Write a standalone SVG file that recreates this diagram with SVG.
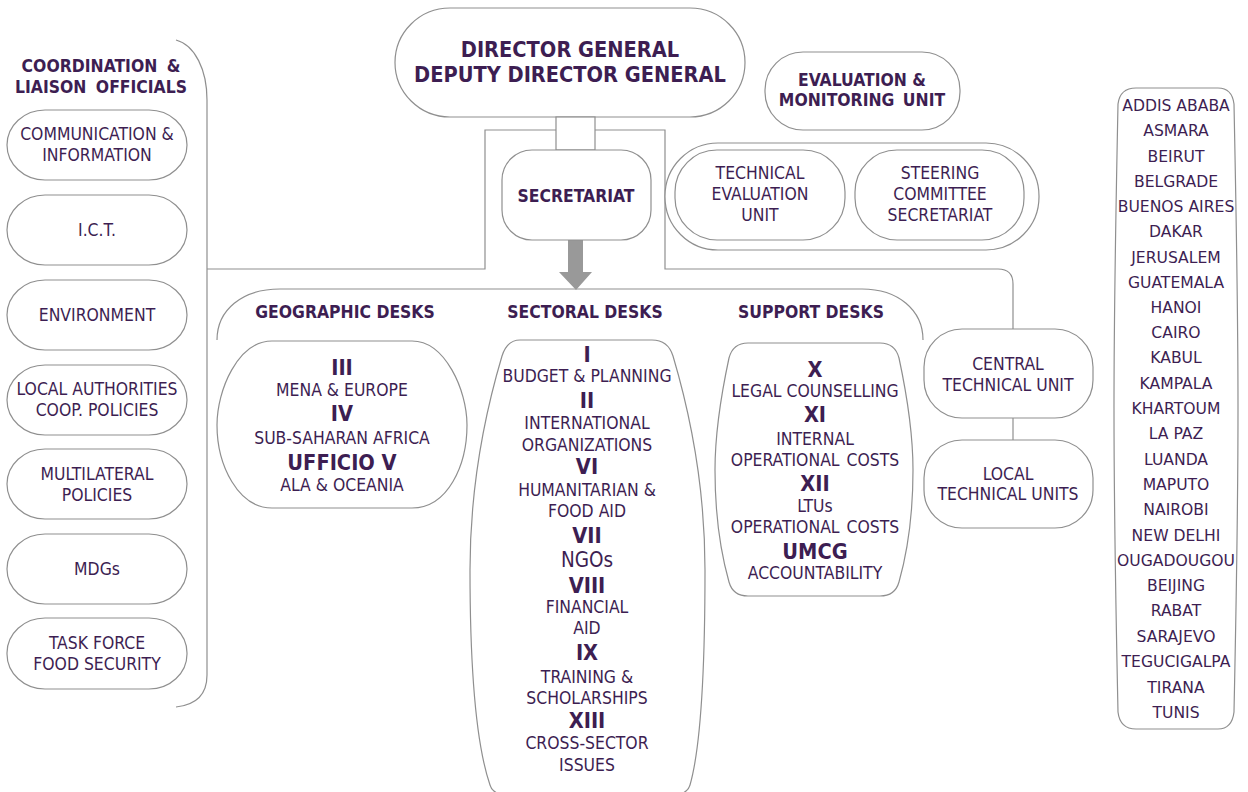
<svg xmlns="http://www.w3.org/2000/svg" width="1248" height="792" viewBox="0 0 1248 792">
<style>
.s{fill:#fff;stroke:#8f8f8f;stroke-width:1.2}
.c{fill:none;stroke:#8f8f8f;stroke-width:1.2}
text{font-family:'DejaVu Sans Condensed','DejaVu Sans',sans-serif;font-stretch:condensed;fill:#3d1e52;text-anchor:middle;font-size:17.4px}
.b{font-weight:bold}
.n{font-weight:bold;font-size:21.6px}
.city{font-family:'DejaVu Sans',sans-serif;font-stretch:normal;font-size:15.6px}
</style>
<rect width="1248" height="792" fill="#fff"/>
<g id="connectors">
<path class="c" d="M176,40 C195,45 207,70 207,100 V675 C207,695 195,705 176,707"/>
<path class="c" d="M556,130 H485 V269 H207"/>
<path class="c" d="M595,130 H665 V269 H998 Q1013,269 1013,284 V329"/>
<path class="c" d="M1013,418 V440"/>
<path class="c" d="M217,340 C217,310 242,289 280,289 H862 C898,289 923,310 923,340"/>
<polygon points="568,240 583,240 583,272 592,272 576,290 559,272 568,272" fill="#999"/>
</g>
<g id="coord-title">
<text class="b" x="101" y="72" word-spacing="4">COORDINATION &amp;</text>
<text class="b" x="101" y="93" word-spacing="4">LIAISON OFFICIALS</text>
</g>
<g id="comm"><rect class="s" x="7" y="110" width="180" height="70" rx="38" ry="35"/><text x="97" y="140">COMMUNICATION &amp;</text><text x="97" y="161">INFORMATION</text></g>
<g id="ict"><rect class="s" x="7" y="195" width="180" height="70" rx="38" ry="35"/><text x="97" y="236">I.C.T.</text></g>
<g id="env"><rect class="s" x="7" y="280" width="180" height="70" rx="38" ry="35"/><text x="97" y="321">ENVIRONMENT</text></g>
<g id="local"><rect class="s" x="7" y="365" width="180" height="70" rx="38" ry="35"/><text x="97" y="395">LOCAL AUTHORITIES</text><text x="97" y="416">COOP. POLICIES</text></g>
<g id="multi"><rect class="s" x="7" y="449" width="180" height="70" rx="38" ry="35"/><text x="97" y="480">MULTILATERAL</text><text x="97" y="501">POLICIES</text></g>
<g id="mdgs"><rect class="s" x="7" y="534" width="180" height="70" rx="38" ry="35"/><text x="97" y="575">MDGs</text></g>
<g id="task"><rect class="s" x="7" y="618" width="180" height="71" rx="38" ry="35"/><text x="97" y="649">TASK FORCE</text><text x="97" y="670">FOOD SECURITY</text></g>
<g id="dg"><rect class="s" x="395" y="8" width="350" height="109" rx="55"/><text class="n" x="570" y="57">DIRECTOR GENERAL</text><text class="n" x="570" y="82">DEPUTY DIRECTOR GENERAL</text></g>
<g id="dg-stem"><rect class="s" x="556" y="117" width="39" height="33"/></g>
<g id="secretariat"><rect class="s" x="502" y="150" width="149" height="90" rx="30"/><text class="b" x="576" y="202">SECRETARIAT</text></g>
<g id="eval"><rect class="s" x="765" y="52" width="195" height="78" rx="38"/><text class="b" x="862" y="86">EVALUATION &amp;</text><text class="b" x="862" y="106" word-spacing="3">MONITORING UNIT</text></g>
<g id="eval-group"><rect class="s" x="665" y="143" width="374" height="107" rx="53"/></g>
<g id="teu"><rect class="s" x="675" y="150" width="170" height="90" rx="42"/><text x="760" y="179">TECHNICAL</text><text x="760" y="200">EVALUATION</text><text x="760" y="221">UNIT</text></g>
<g id="scs"><rect class="s" x="855" y="150" width="169" height="90" rx="42"/><text x="940" y="179">STEERING</text><text x="940" y="200">COMMITTEE</text><text x="940" y="221">SECRETARIAT</text></g>
<g id="desk-labels">
<text class="b" x="345" y="318">GEOGRAPHIC DESKS</text>
<text class="b" x="585" y="318">SECTORAL DESKS</text>
<text class="b" x="811" y="318">SUPPORT DESKS</text>
</g>
<g id="geographic">
<path class="s" d="M272,341 H412 C445,341 467,390 467,425 C467,465 448,508 412,508 H272 C238,508 217,465 217,425 C217,390 238,341 272,341 Z"/>
<text class="n" x="342" y="375">III</text>
<text x="342" y="396">MENA &amp; EUROPE</text>
<text class="n" x="342" y="421">IV</text>
<text x="342" y="444">SUB-SAHARAN AFRICA</text>
<text class="n" x="342" y="470">UFFICIO V</text>
<text x="342" y="491">ALA &amp; OCEANIA</text>
</g>
<g id="sectoral">
<path class="s" d="M520,340 H652 Q668,340 673,356 C692,420 705,490 705,570 C705,680 700,750 690,785 Q688,792 680,794 H500 Q492,792 490,785 C478,750 470,680 470,570 C470,490 483,420 502,356 Q507,340 520,340 Z"/>
<text class="n" x="587" y="362">I</text>
<text x="587" y="382">BUDGET &amp; PLANNING</text>
<text class="n" x="587" y="408">II</text>
<text x="587" y="429">INTERNATIONAL</text>
<text x="587" y="451">ORGANIZATIONS</text>
<text class="n" x="587" y="474">VI</text>
<text x="587" y="496">HUMANITARIAN &amp;</text>
<text x="587" y="517">FOOD AID</text>
<text class="n" x="587" y="543">VII</text>
<text x="587" y="567" style="font-size:20.5px">NGOs</text>
<text class="n" x="587" y="593">VIII</text>
<text x="587" y="613">FINANCIAL</text>
<text x="587" y="634">AID</text>
<text class="n" x="587" y="660">IX</text>
<text x="587" y="683">TRAINING &amp;</text>
<text x="587" y="704">SCHOLARSHIPS</text>
<text class="n" x="587" y="728">XIII</text>
<text x="587" y="749">CROSS-SECTOR</text>
<text x="587" y="771">ISSUES</text>
</g>
<g id="support">
<path class="s" d="M748,343 H880 Q895,343 899,358 C908,400 913,440 913,470 C913,510 908,550 899,582 Q895,596 880,596 H748 Q733,596 729,582 C720,550 715,510 715,470 C715,440 720,400 729,358 Q733,343 748,343 Z"/>
<text class="n" x="815" y="377">X</text>
<text x="815" y="397">LEGAL COUNSELLING</text>
<text class="n" x="815" y="422">XI</text>
<text x="815" y="445">INTERNAL</text>
<text x="815" y="466" word-spacing="2">OPERATIONAL COSTS</text>
<text class="n" x="815" y="491">XII</text>
<text x="815" y="512">LTUs</text>
<text x="815" y="533" word-spacing="2">OPERATIONAL COSTS</text>
<text class="n" x="815" y="559">UMCG</text>
<text x="815" y="579">ACCOUNTABILITY</text>
</g>
<g id="ctu"><rect class="s" x="924" y="329" width="169" height="89" rx="38"/><text x="1008" y="370">CENTRAL</text><text x="1008" y="391">TECHNICAL UNIT</text></g>
<g id="ltu"><rect class="s" x="924" y="440" width="169" height="88" rx="38"/><text x="1008" y="480">LOCAL</text><text x="1008" y="500">TECHNICAL UNITS</text></g>
<g id="cities">
<path class="s" d="M1136,88 H1218 Q1232,88 1234,104 C1237,250 1238,350 1238,408 C1238,470 1237,570 1234,712 Q1232,729 1218,729 H1136 Q1120,729 1118,712 C1115,570 1114,470 1114,408 C1114,350 1115,250 1118,104 Q1120,88 1136,88 Z"/>
<text class="city" x="1176" y="111">ADDIS ABABA</text>
<text class="city" x="1176" y="136">ASMARA</text>
<text class="city" x="1176" y="162">BEIRUT</text>
<text class="city" x="1176" y="187">BELGRADE</text>
<text class="city" x="1176" y="212">BUENOS AIRES</text>
<text class="city" x="1176" y="237">DAKAR</text>
<text class="city" x="1176" y="263">JERUSALEM</text>
<text class="city" x="1176" y="288">GUATEMALA</text>
<text class="city" x="1176" y="313">HANOI</text>
<text class="city" x="1176" y="338">CAIRO</text>
<text class="city" x="1176" y="363">KABUL</text>
<text class="city" x="1176" y="389">KAMPALA</text>
<text class="city" x="1176" y="414">KHARTOUM</text>
<text class="city" x="1176" y="439">LA PAZ</text>
<text class="city" x="1176" y="465">LUANDA</text>
<text class="city" x="1176" y="490">MAPUTO</text>
<text class="city" x="1176" y="515">NAIROBI</text>
<text class="city" x="1176" y="541">NEW DELHI</text>
<text class="city" x="1176" y="566">OUGADOUGOU</text>
<text class="city" x="1176" y="591">BEIJING</text>
<text class="city" x="1176" y="616">RABAT</text>
<text class="city" x="1176" y="642">SARAJEVO</text>
<text class="city" x="1176" y="667">TEGUCIGALPA</text>
<text class="city" x="1176" y="693">TIRANA</text>
<text class="city" x="1176" y="718">TUNIS</text>
</g>
</svg>
